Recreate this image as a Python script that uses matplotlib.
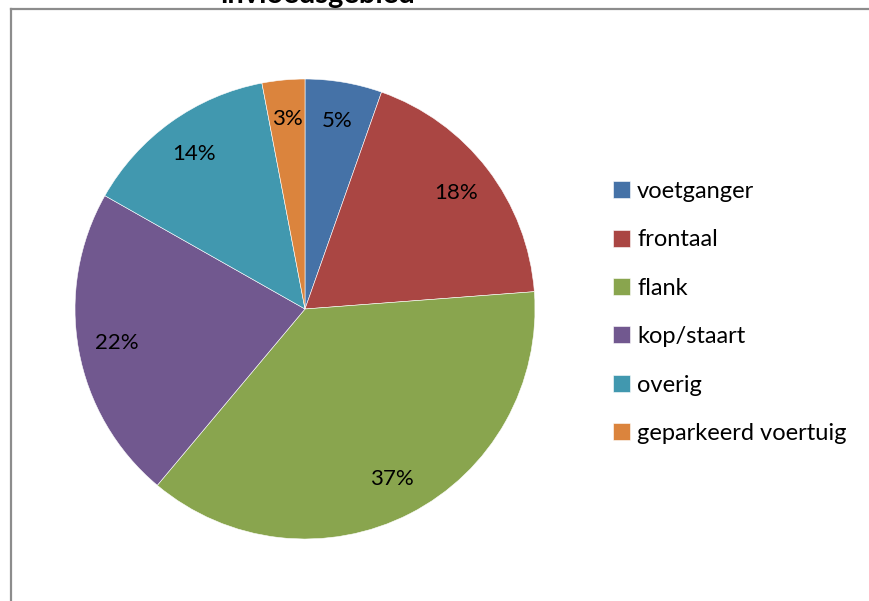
import matplotlib
matplotlib.use('Agg')
import matplotlib.pyplot as plt
from matplotlib.lines import Line2D

# --- data ---
categories = ['voetganger', 'frontaal', 'flank', 'kop/staart', 'overig',
              'geparkeerd voertuig']
shares = [5.4, 18.4, 37.3, 22.1, 13.8, 3.0]
colors = ['#4572A7', '#AA4643', '#89A54E', '#71588F', '#4198AF', '#DB843D']
title = 'invloedsgebied'

plt.rcParams['font.family'] = ['Lato', 'DejaVu Sans']

fig = plt.figure(figsize=(8.69, 6.01), dpi=100)

# chart frame (only top and left edge visible in the crop)
fig.add_artist(Line2D([10.5 / 869, 1], [1 - 8.5 / 601, 1 - 8.5 / 601],
                      transform=fig.transFigure, color='#8c8c8c', lw=1.6))
fig.add_artist(Line2D([10.5 / 869, 10.5 / 869], [0, 1 - 8.5 / 601],
                      transform=fig.transFigure, color='#8c8c8c', lw=1.6))

# title sits mostly above the visible area
fig.text(318 / 869, 1 - 2.5 / 601, title, ha='center', va='baseline',
         fontsize=21, fontweight='bold')

ax = fig.add_axes([75 / 869, 62 / 601, 460 / 869, 460 / 601])
wedges, texts, autotexts = ax.pie(
    shares, colors=colors, startangle=90, counterclock=False,
    autopct='%.0f%%', pctdistance=0.83,
    wedgeprops=dict(edgecolor='white', linewidth=0.4),
    textprops=dict(fontsize=16, color='black'),
)
ax.set_xlim(-1, 1)
ax.set_ylim(-1, 1)

ax.legend(wedges, categories, loc='upper left',
          bbox_to_anchor=(613 / 869, 1 - 181 / 601),
          bbox_transform=fig.transFigure, frameon=False,
          fontsize=17, handlelength=0.72, handleheight=0.72,
          handletextpad=0.3, labelspacing=1.16, borderaxespad=0,
          borderpad=0)

fig.savefig('out.png', dpi=100)
